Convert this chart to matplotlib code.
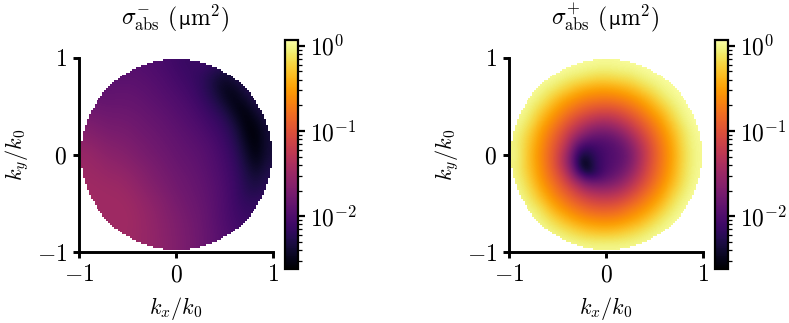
import numpy as np
import matplotlib
matplotlib.use('Agg')
import matplotlib.pyplot as plt
from matplotlib.colors import LogNorm

plt.rcParams['font.family'] = ['cmr10', 'DejaVu Sans']
plt.rcParams['mathtext.fontset'] = 'cm'
plt.rcParams['axes.unicode_minus'] = False
plt.rcParams['axes.formatter.use_mathtext'] = True

# log10 of sigma, rows run from ky=1 down to ky=-1, columns kx=-1..1
log_sigma_minus = [
    [-1.95, -1.95, -1.95, -1.98, -1.96, -1.98, -2.01, -2.05, -2.10, -2.15, -2.10, -2.15, -2.20, -2.20, -2.15, -2.10, -2.10],
    [-1.93, -1.93, -1.93, -1.95, -1.93, -1.95, -1.98, -2.02, -2.07, -2.12, -2.17, -2.27, -2.38, -2.30, -2.20, -2.15, -2.10],
    [-1.90, -1.90, -1.90, -1.90, -1.90, -1.92, -1.95, -1.99, -2.04, -2.09, -2.17, -2.30, -2.48, -2.45, -2.28, -2.20, -2.15],
    [-1.86, -1.86, -1.87, -1.86, -1.86, -1.89, -1.92, -1.96, -2.00, -2.05, -2.14, -2.25, -2.42, -2.56, -2.40, -2.25, -2.20],
    [-1.80, -1.80, -1.82, -1.82, -1.83, -1.85, -1.89, -1.92, -1.97, -2.01, -2.08, -2.18, -2.30, -2.50, -2.58, -2.35, -2.25],
    [-1.72, -1.74, -1.77, -1.77, -1.79, -1.82, -1.85, -1.89, -1.93, -1.98, -2.03, -2.11, -2.20, -2.38, -2.60, -2.50, -2.30],
    [-1.65, -1.68, -1.72, -1.73, -1.75, -1.79, -1.82, -1.86, -1.90, -1.94, -1.99, -2.06, -2.14, -2.28, -2.55, -2.60, -2.35],
    [-1.58, -1.62, -1.66, -1.68, -1.71, -1.75, -1.79, -1.83, -1.87, -1.91, -1.95, -2.01, -2.10, -2.23, -2.47, -2.62, -2.35],
    [-1.52, -1.56, -1.61, -1.63, -1.67, -1.72, -1.76, -1.80, -1.85, -1.88, -1.92, -1.98, -2.06, -2.18, -2.40, -2.58, -2.35],
    [-1.50, -1.52, -1.56, -1.58, -1.62, -1.67, -1.72, -1.77, -1.82, -1.86, -1.90, -1.96, -2.04, -2.15, -2.33, -2.50, -2.30],
    [-1.48, -1.49, -1.52, -1.53, -1.57, -1.63, -1.69, -1.74, -1.79, -1.83, -1.88, -1.94, -2.02, -2.12, -2.28, -2.38, -2.25],
    [-1.46, -1.47, -1.48, -1.49, -1.53, -1.59, -1.65, -1.71, -1.77, -1.81, -1.86, -1.92, -2.00, -2.11, -2.25, -2.30, -2.20],
    [-1.46, -1.46, -1.47, -1.47, -1.50, -1.55, -1.61, -1.67, -1.74, -1.79, -1.84, -1.91, -1.99, -2.10, -2.20, -2.20, -2.15],
    [-1.47, -1.47, -1.47, -1.46, -1.48, -1.53, -1.58, -1.65, -1.71, -1.77, -1.82, -1.90, -1.99, -2.08, -2.15, -2.15, -2.10],
    [-1.48, -1.48, -1.48, -1.47, -1.47, -1.52, -1.57, -1.63, -1.69, -1.75, -1.81, -1.89, -1.98, -2.06, -2.12, -2.10, -2.05],
    [-1.50, -1.50, -1.50, -1.47, -1.48, -1.52, -1.56, -1.62, -1.68, -1.74, -1.80, -1.88, -1.96, -2.03, -2.08, -2.05, -2.00],
    [-1.50, -1.50, -1.50, -1.47, -1.48, -1.52, -1.56, -1.62, -1.68, -1.74, -1.80, -1.88, -1.96, -2.03, -2.08, -2.05, -2.00],
]

log_sigma_plus = [
    [0.08, 0.08, 0.08, 0.08, 0.07, 0.05, 0.04, 0.03, 0.02, 0.03, 0.04, 0.05, 0.07, 0.08, 0.08, 0.08, 0.08],
    [0.08, 0.08, 0.07, 0.05, 0.01, -0.03, -0.07, -0.13, -0.14, -0.10, -0.08, -0.01, 0.03, 0.05, 0.07, 0.08, 0.08],
    [0.08, 0.07, 0.03, -0.03, -0.13, -0.27, -0.37, -0.43, -0.44, -0.40, -0.33, -0.20, -0.08, 0.01, 0.05, 0.08, 0.08],
    [0.08, 0.04, -0.03, -0.20, -0.40, -0.53, -0.65, -0.70, -0.72, -0.68, -0.60, -0.47, -0.30, -0.10, 0.01, 0.06, 0.08],
    [0.05, 0.00, -0.18, -0.40, -0.60, -0.78, -0.92, -1.02, -1.05, -1.00, -0.86, -0.70, -0.50, -0.30, -0.08, 0.03, 0.07],
    [0.03, -0.07, -0.33, -0.57, -0.80, -1.05, -1.25, -1.40, -1.43, -1.33, -1.15, -0.93, -0.70, -0.47, -0.20, 0.00, 0.05],
    [0.00, -0.18, -0.47, -0.72, -1.00, -1.33, -1.62, -1.78, -1.78, -1.68, -1.45, -1.15, -0.86, -0.60, -0.33, -0.08, 0.04],
    [-0.03, -0.25, -0.53, -0.83, -1.13, -1.75, -2.10, -2.05, -2.00, -1.90, -1.70, -1.35, -1.00, -0.68, -0.41, -0.10, 0.02],
    [0.00, -0.28, -0.58, -0.87, -1.30, -2.05, -2.45, -2.20, -2.02, -1.95, -1.80, -1.45, -1.05, -0.72, -0.44, -0.14, 0.02],
    [-0.03, -0.27, -0.55, -0.86, -1.30, -2.05, -2.90, -2.25, -2.02, -1.92, -1.75, -1.40, -1.00, -0.70, -0.42, -0.12, 0.02],
    [-0.01, -0.22, -0.51, -0.78, -1.07, -1.70, -2.25, -2.25, -1.95, -1.80, -1.57, -1.25, -0.92, -0.65, -0.37, -0.10, 0.03],
    [0.02, -0.13, -0.40, -0.65, -0.90, -1.15, -1.50, -1.60, -1.60, -1.50, -1.30, -1.03, -0.78, -0.53, -0.27, -0.05, 0.05],
    [0.04, -0.05, -0.25, -0.50, -0.70, -0.90, -1.06, -1.18, -1.20, -1.15, -1.00, -0.80, -0.60, -0.40, -0.13, 0.01, 0.06],
    [0.07, 0.02, -0.07, -0.30, -0.50, -0.65, -0.78, -0.86, -0.87, -0.83, -0.70, -0.58, -0.42, -0.20, -0.03, 0.05, 0.08],
    [0.08, 0.05, 0.01, -0.10, -0.25, -0.40, -0.50, -0.56, -0.58, -0.55, -0.47, -0.35, -0.18, -0.04, 0.04, 0.07, 0.08],
    [0.08, 0.08, 0.05, 0.02, -0.05, -0.13, -0.22, -0.27, -0.28, -0.25, -0.18, -0.10, -0.01, 0.03, 0.06, 0.08, 0.08],
    [0.08, 0.08, 0.08, 0.07, 0.05, 0.03, 0.01, 0.00, 0.00, 0.00, 0.01, 0.03, 0.05, 0.07, 0.08, 0.08, 0.08],
]

title_symbols = [r'$\sigma_{\mathrm{abs}}^{-}$', r'$\sigma_{\mathrm{abs}}^{+}$']
axis_ticks = [-1, 0, 1]
axis_labels = [r'$-1$', r'$0$', r'$1$']
cbar_ticks = [1e-2, 1e-1, 1e0]
cbar_labels = [r'$10^{-2}$', r'$10^{-1}$', r'$10^{0}$']
vmin, vmax = 2.4e-3, 1.17

W, H = 789, 323
CELLS = 100     # the original map is coarse, its edge shows stairs
RADIUS = 0.98
FS = 17

fig = plt.figure(figsize=(W / 100, H / 100), dpi=100)

# mask for everything outside the light cone
centres = (np.arange(CELLS) + 0.5) / CELLS * 2 - 1
kx, ky = np.meshgrid(centres, centres)
outside = np.zeros((CELLS, CELLS, 4))
outside[..., :3] = 1
outside[..., 3] = (kx ** 2 + ky ** 2 > RADIUS ** 2)

panels = [(log_sigma_minus, 78.7, 285), (log_sigma_plus, 508.7, 715)]
for (table, left, cb_left), symbol in zip(panels, title_symbols):
    ax = fig.add_axes([left / W, (H - 252.3) / H, 194.6 / W, 194.6 / H])
    sigma = 10.0 ** np.array(table)
    im = ax.imshow(sigma, extent=[-1, 1, -1, 1], cmap='inferno', norm=LogNorm(vmin, vmax),
                   interpolation='bicubic', aspect='auto')
    ax.imshow(outside, extent=[-1, 1, -1, 1], interpolation='nearest', aspect='auto')
    ax.set_xlim(-1, 1)
    ax.set_ylim(-1, 1)
    ax.spines['top'].set_visible(False)
    ax.spines['right'].set_visible(False)
    ax.spines['left'].set_linewidth(2.1)
    ax.spines['bottom'].set_linewidth(2.1)
    ax.set_xticks(axis_ticks, axis_labels)
    ax.set_yticks(axis_ticks, axis_labels)
    ax.tick_params(width=2.1, length=4.5, labelsize=FS, pad=4)
    ax.set_xlabel(r'$k_x/k_0$', fontsize=FS - 1, labelpad=6)
    ax.set_ylabel(r'$k_y/k_0$', fontsize=FS - 1, labelpad=4)

    # the upright mu is not in the cm fonts, so the title is set in pieces
    base = (H - 25) / H
    fig.text((left + 42) / W, base, symbol, fontsize=FS, va='baseline')
    fig.text((left + 88) / W, base, r'$($', fontsize=FS, va='baseline')
    fig.text((left + 99.5) / W, base, 'µ', fontsize=13, family='DejaVu Sans', va='baseline')
    fig.text((left + 111.5) / W, base, r'$\mathrm{m}^2)$', fontsize=FS, va='baseline')

    cax = fig.add_axes([cb_left / W, (H - 269) / H, 13 / W, 229 / H])
    cb = fig.colorbar(im, cax=cax)
    cb.set_ticks(cbar_ticks, labels=cbar_labels)
    cb.outline.set_linewidth(1.6)
    cax.tick_params(which='major', width=1.6, length=5, labelsize=FS, pad=4)
    cax.tick_params(which='minor', width=0.9, length=3)

fig.savefig('out.png', dpi=100)
